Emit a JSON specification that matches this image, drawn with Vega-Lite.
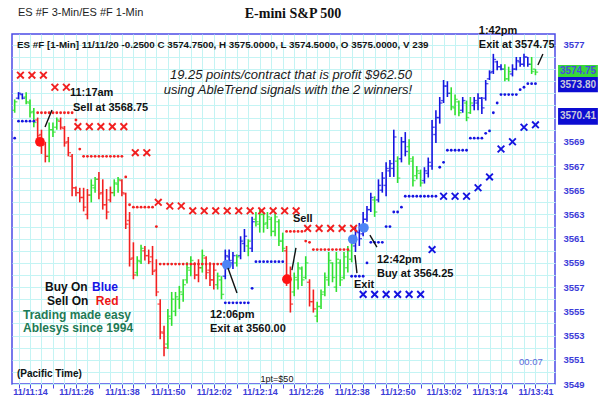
{
"$schema": "https://vega.github.io/schema/vega-lite/v6.json",
"width": 543, "height": 350,
"autosize": {"type": "none"},
"padding": {"left": 12, "top": 34, "right": 45, "bottom": 25},
"background": "white",
"config": {"view": {"stroke": "#4b4be6", "strokeWidth": 1.5}, "font": "Liberation Sans"},
"resolve": {"axis": {"x": "independent", "y": "independent"}},
"datasets": {
"bars": [
{"b":10,"l":3571.4,"h":3572.5,"o":3571.6,"c":3572.3,"t":"N"},
{"b":11,"l":3572.5,"h":3573.1,"o":3572.6,"c":3573.0,"t":"U"},
{"b":12,"l":3572.5,"h":3573.0,"o":3572.9,"c":3572.6,"t":"U"},
{"b":13,"l":3572.1,"h":3573.1,"o":3572.7,"c":3572.3,"t":"N"},
{"b":14,"l":3571.0,"h":3572.5,"o":3572.2,"c":3571.4,"t":"N"},
{"b":15,"l":3570.2,"h":3571.8,"o":3571.5,"c":3570.6,"t":"N"},
{"b":16,"l":3569.2,"h":3571.0,"o":3570.8,"c":3569.5,"t":"D"},
{"b":17,"l":3568.0,"h":3570.0,"o":3569.6,"c":3568.7,"t":"D"},
{"b":18,"l":3567.3,"h":3569.0,"o":3568.8,"c":3567.8,"t":"D"},
{"b":19,"l":3567.3,"h":3570.6,"o":3567.8,"c":3570.0,"t":"N"},
{"b":20,"l":3569.4,"h":3570.6,"o":3570.0,"c":3569.8,"t":"N"},
{"b":21,"l":3570.0,"h":3571.0,"o":3570.2,"c":3570.8,"t":"N"},
{"b":22,"l":3570.0,"h":3571.0,"o":3570.7,"c":3570.2,"t":"D"},
{"b":23,"l":3568.6,"h":3570.3,"o":3570.1,"c":3568.9,"t":"D"},
{"b":24,"l":3567.8,"h":3569.4,"o":3569.0,"c":3568.1,"t":"D"},
{"b":25,"l":3564.5,"h":3568.0,"o":3567.8,"c":3565.2,"t":"D"},
{"b":26,"l":3564.5,"h":3565.3,"o":3565.2,"c":3564.8,"t":"D"},
{"b":27,"l":3564.0,"h":3565.2,"o":3564.8,"c":3564.4,"t":"D"},
{"b":28,"l":3563.25,"h":3565.2,"o":3564.4,"c":3563.6,"t":"D"},
{"b":29,"l":3562.6,"h":3565.1,"o":3563.0,"c":3564.6,"t":"D"},
{"b":30,"l":3564.0,"h":3565.9,"o":3564.6,"c":3565.4,"t":"N"},
{"b":31,"l":3564.8,"h":3566.1,"o":3565.2,"c":3565.9,"t":"N"},
{"b":32,"l":3564.25,"h":3566.5,"o":3565.9,"c":3564.7,"t":"D"},
{"b":33,"l":3563.4,"h":3565.9,"o":3564.8,"c":3563.8,"t":"D"},
{"b":34,"l":3562.6,"h":3565.1,"o":3563.8,"c":3563.2,"t":"D"},
{"b":35,"l":3564.0,"h":3565.3,"o":3564.2,"c":3564.8,"t":"D"},
{"b":36,"l":3564.5,"h":3565.9,"o":3564.8,"c":3565.6,"t":"N"},
{"b":37,"l":3564.8,"h":3566.1,"o":3565.5,"c":3565.9,"t":"N"},
{"b":38,"l":3564.5,"h":3565.9,"o":3565.8,"c":3564.8,"t":"D"},
{"b":39,"l":3561.8,"h":3564.8,"o":3564.7,"c":3562.2,"t":"D"},
{"b":40,"l":3558.7,"h":3563.2,"o":3562.5,"c":3559.3,"t":"D"},
{"b":41,"l":3557.65,"h":3560.7,"o":3559.4,"c":3558.0,"t":"D"},
{"b":42,"l":3557.9,"h":3559.55,"o":3558.2,"c":3559.2,"t":"N"},
{"b":43,"l":3558.9,"h":3560.5,"o":3559.1,"c":3560.2,"t":"N"},
{"b":44,"l":3559.2,"h":3560.4,"o":3560.0,"c":3559.6,"t":"D"},
{"b":45,"l":3558.9,"h":3560.1,"o":3559.6,"c":3559.1,"t":"D"},
{"b":46,"l":3558.0,"h":3560.4,"o":3559.5,"c":3558.3,"t":"D"},
{"b":47,"l":3556.25,"h":3559.3,"o":3558.4,"c":3556.6,"t":"D"},
{"b":48,"l":3552.7,"h":3556.0,"o":3555.6,"c":3553.3,"t":"D"},
{"b":49,"l":3551.3,"h":3553.8,"o":3553.2,"c":3552.0,"t":"D"},
{"b":50,"l":3551.9,"h":3555.2,"o":3552.3,"c":3554.6,"t":"N"},
{"b":51,"l":3553.8,"h":3556.6,"o":3554.4,"c":3556.0,"t":"N"},
{"b":52,"l":3554.6,"h":3556.6,"o":3555.0,"c":3556.2,"t":"N"},
{"b":53,"l":3555.2,"h":3557.1,"o":3556.0,"c":3556.6,"t":"N"},
{"b":54,"l":3555.8,"h":3557.65,"o":3556.4,"c":3557.2,"t":"N"},
{"b":55,"l":3557.3,"h":3559.05,"o":3557.6,"c":3558.6,"t":"N"},
{"b":56,"l":3557.9,"h":3559.55,"o":3558.4,"c":3559.2,"t":"N"},
{"b":57,"l":3557.65,"h":3559.05,"o":3558.9,"c":3558.0,"t":"D"},
{"b":58,"l":3557.4,"h":3559.3,"o":3558.0,"c":3558.6,"t":"D"},
{"b":59,"l":3558.2,"h":3560.1,"o":3558.6,"c":3559.6,"t":"N"},
{"b":60,"l":3557.65,"h":3559.55,"o":3559.4,"c":3558.2,"t":"D"},
{"b":61,"l":3557.1,"h":3559.05,"o":3558.4,"c":3557.6,"t":"D"},
{"b":62,"l":3556.8,"h":3558.9,"o":3557.6,"c":3558.4,"t":"D"},
{"b":63,"l":3556.8,"h":3558.2,"o":3557.2,"c":3557.9,"t":"N"},
{"b":64,"l":3556.0,"h":3557.9,"o":3557.6,"c":3556.4,"t":"N"},
{"b":65,"l":3557.65,"h":3560.1,"o":3557.9,"c":3559.6,"t":"U"},
{"b":66,"l":3558.9,"h":3560.1,"o":3559.5,"c":3559.2,"t":"U"},
{"b":67,"l":3558.5,"h":3559.9,"o":3559.0,"c":3559.6,"t":"U"},
{"b":68,"l":3558.7,"h":3559.7,"o":3559.0,"c":3559.5,"t":"N"},
{"b":69,"l":3559.3,"h":3561.2,"o":3559.6,"c":3560.8,"t":"U"},
{"b":70,"l":3559.9,"h":3561.8,"o":3560.6,"c":3561.2,"t":"U"},
{"b":71,"l":3559.55,"h":3560.95,"o":3560.4,"c":3560.8,"t":"N"},
{"b":72,"l":3559.9,"h":3562.8,"o":3560.2,"c":3562.4,"t":"U"},
{"b":73,"l":3562.0,"h":3563.2,"o":3562.6,"c":3562.4,"t":"N"},
{"b":74,"l":3561.5,"h":3563.4,"o":3562.2,"c":3563.0,"t":"N"},
{"b":75,"l":3561.5,"h":3563.2,"o":3563.0,"c":3562.2,"t":"N"},
{"b":76,"l":3561.8,"h":3563.2,"o":3562.3,"c":3562.8,"t":"N"},
{"b":77,"l":3561.2,"h":3562.8,"o":3562.6,"c":3561.6,"t":"N"},
{"b":78,"l":3561.2,"h":3563.2,"o":3561.6,"c":3562.8,"t":"N"},
{"b":79,"l":3560.4,"h":3562.6,"o":3562.4,"c":3560.8,"t":"N"},
{"b":80,"l":3559.9,"h":3561.5,"o":3560.8,"c":3560.2,"t":"N"},
{"b":81,"l":3557.1,"h":3560.4,"o":3560.0,"c":3557.6,"t":"D"},
{"b":82,"l":3554.9,"h":3558.7,"o":3557.6,"c":3555.6,"t":"D"},
{"b":83,"l":3556.25,"h":3558.2,"o":3556.6,"c":3557.8,"t":"N"},
{"b":84,"l":3556.8,"h":3559.05,"o":3557.6,"c":3558.6,"t":"N"},
{"b":85,"l":3557.1,"h":3558.7,"o":3558.5,"c":3557.6,"t":"N"},
{"b":86,"l":3557.65,"h":3559.55,"o":3557.8,"c":3559.0,"t":"N"},
{"b":87,"l":3555.4,"h":3557.65,"o":3557.4,"c":3555.8,"t":"D"},
{"b":88,"l":3554.9,"h":3556.8,"o":3555.8,"c":3555.2,"t":"D"},
{"b":89,"l":3554.1,"h":3555.8,"o":3554.6,"c":3555.4,"t":"N"},
{"b":90,"l":3555.2,"h":3556.8,"o":3555.4,"c":3556.4,"t":"N"},
{"b":91,"l":3556.25,"h":3558.2,"o":3556.6,"c":3557.8,"t":"N"},
{"b":92,"l":3557.1,"h":3559.9,"o":3557.6,"c":3559.2,"t":"N"},
{"b":93,"l":3557.4,"h":3559.05,"o":3559.0,"c":3557.8,"t":"N"},
{"b":94,"l":3556.6,"h":3559.9,"o":3557.0,"c":3559.3,"t":"N"},
{"b":95,"l":3557.1,"h":3559.3,"o":3559.0,"c":3557.6,"t":"N"},
{"b":96,"l":3557.65,"h":3559.9,"o":3557.8,"c":3559.5,"t":"N"},
{"b":97,"l":3558.2,"h":3560.4,"o":3558.6,"c":3560.0,"t":"N"},
{"b":98,"l":3559.05,"h":3560.95,"o":3559.3,"c":3560.6,"t":"N"},
{"b":99,"l":3559.9,"h":3562.0,"o":3560.4,"c":3561.6,"t":"U"},
{"b":100,"l":3560.4,"h":3562.3,"o":3561.5,"c":3561.0,"t":"U"},
{"b":101,"l":3561.2,"h":3563.2,"o":3561.4,"c":3562.6,"t":"U"},
{"b":102,"l":3562.4,"h":3563.7,"o":3562.6,"c":3563.4,"t":"U"},
{"b":103,"l":3563.2,"h":3564.8,"o":3563.4,"c":3564.4,"t":"U"},
{"b":104,"l":3562.8,"h":3564.5,"o":3564.2,"c":3563.2,"t":"N"},
{"b":105,"l":3564.0,"h":3565.9,"o":3564.2,"c":3565.4,"t":"U"},
{"b":106,"l":3564.8,"h":3566.5,"o":3565.0,"c":3566.0,"t":"U"},
{"b":107,"l":3564.5,"h":3567.3,"o":3565.4,"c":3566.8,"t":"U"},
{"b":108,"l":3566.1,"h":3567.5,"o":3566.6,"c":3567.2,"t":"U"},
{"b":109,"l":3566.1,"h":3570.0,"o":3566.8,"c":3569.4,"t":"U"},
{"b":110,"l":3565.6,"h":3567.8,"o":3567.4,"c":3566.0,"t":"N"},
{"b":111,"l":3567.3,"h":3569.4,"o":3567.6,"c":3569.0,"t":"U"},
{"b":112,"l":3567.8,"h":3569.8,"o":3569.0,"c":3568.2,"t":"U"},
{"b":113,"l":3567.1,"h":3569.2,"o":3568.6,"c":3567.6,"t":"N"},
{"b":114,"l":3565.3,"h":3567.8,"o":3567.4,"c":3565.8,"t":"N"},
{"b":115,"l":3565.9,"h":3567.0,"o":3566.2,"c":3566.6,"t":"N"},
{"b":116,"l":3565.3,"h":3566.7,"o":3566.4,"c":3565.6,"t":"N"},
{"b":117,"l":3565.55,"h":3566.9,"o":3565.8,"c":3566.6,"t":"U"},
{"b":118,"l":3566.05,"h":3567.7,"o":3566.4,"c":3567.3,"t":"U"},
{"b":119,"l":3566.7,"h":3570.8,"o":3567.0,"c":3570.2,"t":"U"},
{"b":120,"l":3568.9,"h":3571.6,"o":3569.6,"c":3571.0,"t":"U"},
{"b":121,"l":3570.5,"h":3572.7,"o":3571.0,"c":3572.2,"t":"U"},
{"b":122,"l":3572.2,"h":3574.1,"o":3572.4,"c":3573.6,"t":"U"},
{"b":123,"l":3572.7,"h":3574.0,"o":3573.6,"c":3573.0,"t":"U"},
{"b":124,"l":3571.6,"h":3573.5,"o":3573.0,"c":3571.9,"t":"N"},
{"b":125,"l":3571.2,"h":3572.9,"o":3571.8,"c":3572.5,"t":"N"},
{"b":126,"l":3571.1,"h":3572.4,"o":3572.3,"c":3571.4,"t":"N"},
{"b":127,"l":3571.4,"h":3572.7,"o":3571.6,"c":3572.4,"t":"U"},
{"b":128,"l":3570.7,"h":3572.4,"o":3572.2,"c":3571.0,"t":"N"},
{"b":129,"l":3571.3,"h":3572.7,"o":3571.4,"c":3572.2,"t":"N"},
{"b":130,"l":3571.6,"h":3572.7,"o":3572.0,"c":3572.4,"t":"U"},
{"b":131,"l":3571.6,"h":3573.0,"o":3572.2,"c":3572.6,"t":"U"},
{"b":132,"l":3571.3,"h":3572.7,"o":3572.6,"c":3571.8,"t":"U"},
{"b":133,"l":3572.4,"h":3574.1,"o":3572.6,"c":3573.8,"t":"U"},
{"b":134,"l":3574.1,"h":3574.9,"o":3574.2,"c":3574.7,"t":"U"},
{"b":135,"l":3574.6,"h":3576.26,"o":3574.8,"c":3575.8,"t":"U"},
{"b":136,"l":3574.9,"h":3575.7,"o":3575.6,"c":3575.2,"t":"U"},
{"b":137,"l":3574.9,"h":3575.4,"o":3575.2,"c":3575.0,"t":"U"},
{"b":138,"l":3574.0,"h":3575.4,"o":3575.0,"c":3574.2,"t":"N"},
{"b":139,"l":3574.0,"h":3575.2,"o":3574.2,"c":3574.8,"t":"N"},
{"b":140,"l":3574.4,"h":3575.4,"o":3574.6,"c":3575.0,"t":"U"},
{"b":141,"l":3574.9,"h":3576.0,"o":3575.0,"c":3575.7,"t":"U"},
{"b":142,"l":3575.2,"h":3576.0,"o":3575.6,"c":3575.4,"t":"U"},
{"b":143,"l":3575.2,"h":3576.26,"o":3575.4,"c":3576.0,"t":"U"},
{"b":144,"l":3575.2,"h":3576.0,"o":3576.0,"c":3575.4,"t":"U"},
{"b":145,"l":3574.6,"h":3576.0,"o":3575.4,"c":3574.8,"t":"N"},
{"b":146,"l":3574.5,"h":3575.0,"o":3575.0,"c":3574.75,"t":"N"}
],
"stops": [
{"b":10,"p":3569.3,"s":"U"},{"b":11,"p":3570.7,"s":"U"},{"b":12,"p":3570.7,"s":"U"},{"b":13,"p":3570.7,"s":"U"},{"b":14,"p":3570.7,"s":"U"},{"b":15,"p":3570.7,"s":"U"},
{"b":16,"p":3571.4,"s":"D"},{"b":17,"p":3571.4,"s":"D"},{"b":18,"p":3571.4,"s":"D"},{"b":19,"p":3571.4,"s":"D"},{"b":20,"p":3571.4,"s":"D"},{"b":21,"p":3571.4,"s":"D"},{"b":22,"p":3571.4,"s":"D"},{"b":23,"p":3571.4,"s":"D"},{"b":24,"p":3571.4,"s":"D"},{"b":25,"p":3571.4,"s":"D"},
{"b":26,"p":3570.8,"s":"D"},{"b":27,"p":3568.4,"s":"D"},
{"b":28,"p":3567.8,"s":"D"},{"b":29,"p":3567.8,"s":"D"},{"b":30,"p":3567.8,"s":"D"},{"b":31,"p":3567.8,"s":"D"},{"b":32,"p":3567.8,"s":"D"},{"b":33,"p":3567.8,"s":"D"},{"b":34,"p":3567.8,"s":"D"},{"b":35,"p":3567.8,"s":"D"},{"b":36,"p":3567.8,"s":"D"},{"b":37,"p":3567.8,"s":"D"},{"b":38,"p":3567.8,"s":"D"},
{"b":39,"p":3566.1,"s":"D"},{"b":40,"p":3563.8,"s":"D"},
{"b":41,"p":3563.6,"s":"D"},{"b":42,"p":3563.6,"s":"D"},{"b":43,"p":3563.6,"s":"D"},{"b":44,"p":3563.6,"s":"D"},{"b":45,"p":3563.6,"s":"D"},{"b":46,"p":3563.6,"s":"D"},
{"b":47,"p":3562.0,"s":"D"},
{"b":48,"p":3558.9,"s":"D"},{"b":49,"p":3558.9,"s":"D"},{"b":50,"p":3558.9,"s":"D"},{"b":51,"p":3558.9,"s":"D"},{"b":52,"p":3558.9,"s":"D"},{"b":53,"p":3558.9,"s":"D"},{"b":54,"p":3558.9,"s":"D"},{"b":55,"p":3558.9,"s":"D"},{"b":56,"p":3558.9,"s":"D"},{"b":57,"p":3558.9,"s":"D"},{"b":58,"p":3558.9,"s":"D"},{"b":59,"p":3558.9,"s":"D"},{"b":60,"p":3558.9,"s":"D"},{"b":61,"p":3558.9,"s":"D"},{"b":62,"p":3558.9,"s":"D"},{"b":63,"p":3558.9,"s":"D"},{"b":64,"p":3558.9,"s":"D"},
{"b":65,"p":3555.7,"s":"U"},{"b":66,"p":3555.7,"s":"U"},{"b":67,"p":3555.7,"s":"U"},{"b":68,"p":3555.7,"s":"U"},{"b":69,"p":3555.7,"s":"U"},{"b":70,"p":3555.7,"s":"U"},{"b":71,"p":3555.7,"s":"U"},
{"b":72,"p":3556.9,"s":"U"},
{"b":73,"p":3559.1,"s":"U"},{"b":74,"p":3559.1,"s":"U"},{"b":75,"p":3559.1,"s":"U"},{"b":76,"p":3559.1,"s":"U"},{"b":77,"p":3559.1,"s":"U"},{"b":78,"p":3559.1,"s":"U"},{"b":79,"p":3559.1,"s":"U"},{"b":80,"p":3559.1,"s":"U"},
{"b":81,"p":3561.6,"s":"D"},{"b":82,"p":3561.6,"s":"D"},{"b":83,"p":3561.6,"s":"D"},{"b":84,"p":3561.6,"s":"D"},{"b":85,"p":3561.6,"s":"D"},
{"b":86,"p":3560.8,"s":"D"},{"b":87,"p":3560.7,"s":"D"},
{"b":88,"p":3560.1,"s":"D"},{"b":89,"p":3560.1,"s":"D"},{"b":90,"p":3560.1,"s":"D"},{"b":91,"p":3560.1,"s":"D"},{"b":92,"p":3560.1,"s":"D"},{"b":93,"p":3560.1,"s":"D"},{"b":94,"p":3560.1,"s":"D"},{"b":95,"p":3560.1,"s":"D"},{"b":96,"p":3560.1,"s":"D"},{"b":97,"p":3560.1,"s":"D"},
{"b":98,"p":3557.9,"s":"U"},{"b":99,"p":3557.9,"s":"U"},{"b":100,"p":3557.9,"s":"U"},{"b":101,"p":3557.9,"s":"U"},
{"b":102,"p":3559.0,"s":"U"},
{"b":103,"p":3560.7,"s":"U"},{"b":104,"p":3560.7,"s":"U"},{"b":105,"p":3560.7,"s":"U"},{"b":106,"p":3560.7,"s":"U"},
{"b":107,"p":3562.0,"s":"U"},{"b":108,"p":3562.0,"s":"U"},
{"b":109,"p":3563.2,"s":"U"},{"b":110,"p":3563.2,"s":"U"},{"b":111,"p":3563.6,"s":"U"},
{"b":112,"p":3564.5,"s":"U"},{"b":113,"p":3564.5,"s":"U"},{"b":114,"p":3564.5,"s":"U"},{"b":115,"p":3564.5,"s":"U"},{"b":116,"p":3564.5,"s":"U"},{"b":117,"p":3564.5,"s":"U"},{"b":118,"p":3564.5,"s":"U"},{"b":119,"p":3564.5,"s":"U"},{"b":120,"p":3564.5,"s":"U"},
{"b":121,"p":3566.9,"s":"U"},{"b":122,"p":3567.3,"s":"U"},
{"b":123,"p":3568.3,"s":"U"},{"b":124,"p":3568.3,"s":"U"},{"b":125,"p":3568.3,"s":"U"},{"b":126,"p":3568.3,"s":"U"},{"b":127,"p":3568.3,"s":"U"},{"b":128,"p":3568.3,"s":"U"},
{"b":129,"p":3569.3,"s":"U"},{"b":130,"p":3569.3,"s":"U"},{"b":131,"p":3569.3,"s":"U"},{"b":132,"p":3569.3,"s":"U"},
{"b":133,"p":3569.7,"s":"U"},{"b":134,"p":3569.9,"s":"U"},{"b":135,"p":3571.4,"s":"U"},{"b":136,"p":3572.2,"s":"U"},
{"b":137,"p":3572.9,"s":"U"},{"b":138,"p":3572.9,"s":"U"},{"b":139,"p":3572.9,"s":"U"},{"b":140,"p":3572.9,"s":"U"},{"b":141,"p":3572.9,"s":"U"},
{"b":142,"p":3573.3,"s":"U"},{"b":143,"p":3573.5,"s":"U"},
{"b":144,"p":3573.8,"s":"U"},{"b":145,"p":3573.8,"s":"U"},{"b":146,"p":3573.8,"s":"U"}
],
"xs": [
{"b":11.5,"p":3574.5,"s":"D"},{"b":14.5,"p":3574.5,"s":"D"},{"b":17.5,"p":3574.5,"s":"D"},
{"b":20.5,"p":3573.5,"s":"D"},{"b":23.5,"p":3573.5,"s":"D"},
{"b":26.5,"p":3570.25,"s":"D"},{"b":29.5,"p":3570.25,"s":"D"},{"b":32.5,"p":3570.25,"s":"D"},{"b":35.5,"p":3570.25,"s":"D"},{"b":38.5,"p":3570.25,"s":"D"},
{"b":41.5,"p":3568.1,"s":"D"},{"b":44.5,"p":3568.1,"s":"D"},
{"b":47.5,"p":3564.0,"s":"D"},
{"b":50.5,"p":3563.7,"s":"D"},{"b":53.5,"p":3563.7,"s":"D"},
{"b":56.5,"p":3563.3,"s":"D"},{"b":59.5,"p":3563.3,"s":"D"},{"b":62.5,"p":3563.3,"s":"D"},{"b":65.5,"p":3563.3,"s":"D"},{"b":68.5,"p":3563.3,"s":"D"},{"b":71.5,"p":3563.3,"s":"D"},{"b":74.5,"p":3563.3,"s":"D"},{"b":77.5,"p":3563.3,"s":"D"},{"b":80.5,"p":3563.3,"s":"D"},{"b":83.5,"p":3563.3,"s":"D"},
{"b":86.5,"p":3561.85,"s":"D"},{"b":89.5,"p":3561.85,"s":"D"},{"b":92.5,"p":3561.85,"s":"D"},{"b":95.5,"p":3561.85,"s":"D"},{"b":98.5,"p":3561.85,"s":"D"},
{"b":101,"p":3556.4,"s":"U"},{"b":104,"p":3556.4,"s":"U"},{"b":107,"p":3556.4,"s":"U"},{"b":110,"p":3556.4,"s":"U"},{"b":113,"p":3556.4,"s":"U"},{"b":116,"p":3556.4,"s":"U"},
{"b":119,"p":3560.1,"s":"U"},
{"b":122,"p":3564.5,"s":"U"},{"b":125,"p":3564.5,"s":"U"},{"b":128,"p":3564.5,"s":"U"},
{"b":131,"p":3565.2,"s":"U"},{"b":134,"p":3566.1,"s":"U"},{"b":137,"p":3568.4,"s":"U"},{"b":140,"p":3569.0,"s":"U"},{"b":143,"p":3570.2,"s":"U"},{"b":146,"p":3570.4,"s":"U"}
],
"signals": [
{"b":16.6,"p":3569.0,"s":"Sell"},
{"b":65.4,"p":3558.85,"s":"Cover"},
{"b":81.1,"p":3557.65,"s":"Sell"},
{"b":98.3,"p":3560.95,"s":"Cover"},
{"b":101.2,"p":3561.9,"s":"Buy"}
],
"arrows": [
{"b":19.74,"p":3571.62,"b2":17.92,"p2":3570.22},
{"b":68.05,"p":3556.51,"b2":65.7,"p2":3558.58},
{"b":83.45,"p":3560.23,"b2":82.4,"p2":3558.41},
{"b":99.38,"p":3558.16,"b2":98.86,"p2":3559.65},
{"b":104.6,"p":3560.31,"b2":102.77,"p2":3561.3},
{"b":147.94,"p":3576.25,"b2":146.64,"p2":3575.34}
],
"notes": [
{"b":10.87,"p":3579.63,"txt":"ES #F 3-Min/ES #F 1-Min","k":"win"},
{"b":82.67,"p":3579.55,"txt":"E-mini S&P 500","k":"ttl"},
{"b":10.6,"p":3576.99,"txt":"ES #F [1-Min] 11/11/20  -0.2500 C 3574.7500, H 3575.0000, L 3574.5000, O 3575.0000, V 239","k":"head"},
{"b":24.44,"p":3573.03,"txt":"11:17am","k":"call"},
{"b":25.23,"p":3571.79,"txt":"Sell at 3568.75","k":"call"},
{"b":82.67,"p":3562.62,"txt":"Sell","k":"call"},
{"b":61.0,"p":3554.7,"txt":"12:06pm","k":"call"},
{"b":61.0,"p":3553.54,"txt":"Exit at 3560.00","k":"call"},
{"b":98.6,"p":3557.17,"txt":"Exit","k":"call"},
{"b":104.6,"p":3559.24,"txt":"12:42pm","k":"call"},
{"b":104.6,"p":3558.08,"txt":"Buy at 3564.25","k":"call"},
{"b":131.2,"p":3578.15,"txt":"1:42pm","k":"call"},
{"b":131.2,"p":3576.99,"txt":"Exit at 3574.75","k":"call"},
{"b":82.15,"p":3574.51,"txt":"19.25 points/contract that is profit $962.50","k":"msg"},
{"b":81.36,"p":3573.28,"txt":"using AbleTrend signals with the 2 winners!","k":"msg"},
{"b":17.92,"p":3557.0,"txt":"Buy On","k":"legK"},
{"b":18.44,"p":3555.85,"txt":"Sell On","k":"legK"},
{"b":30.2,"p":3557.0,"txt":"Blue","k":"legB"},
{"b":31.2,"p":3555.85,"txt":"Red","k":"legR"},
{"b":12.17,"p":3554.7,"txt":"Trading made easy","k":"legG"},
{"b":12.17,"p":3553.62,"txt":"Ablesys since 1994","k":"legG"},
{"b":10.6,"p":3549.82,"txt":"(Pacific Time)","k":"pac"},
{"b":78.5,"p":3549.41,"txt":"1pt=$50","k":"pt"},
{"b":144.8,"p":3550.8,"txt":"00:07","k":"clock"}
],
"tags": [
{"lab":"3574.75","top":3575.35,"bot":3574.35,"mid":3574.85,"k":"last"},
{"lab":"3573.80","top":3574.35,"bot":3573.1,"mid":3573.72,"k":"stop"},
{"lab":"3570.41","top":3571.8,"bot":3570.4,"mid":3571.1,"k":"stop"}
]
},
"layer": [
{"data": {"name": "bars"},
 "mark": {"type": "rule", "strokeWidth": 1.6},
 "encoding": {
  "x": {"field": "b", "type": "quantitative", "scale": {"domain": [9.3, 151.1], "nice": false, "zero": false},
   "axis": {"orient": "bottom", "values": [11,14,17,20,23,26,29,32,35,38,41,44,47,50,53,56,59,62,65,68,71,74,77,80,83,86,89,92,95,98,101,104,107,110,113,116,119,122,125,128,131,134,137,140,143,146,149],
    "grid": true, "gridColor": "#c4f4f4", "gridWidth": 1, "domain": false, "ticks": true, "tickColor": "#4b4be6", "tickSize": 4, "labels": false, "title": null, "zindex": 0}},
  "y": {"field": "l", "type": "quantitative", "scale": {"domain": [3549, 3577.9], "nice": false, "zero": false},
   "axis": {"orient": "right", "values": [3549,3550,3551,3552,3553,3554,3555,3556,3557,3558,3559,3560,3561,3562,3563,3564,3565,3566,3567,3568,3569,3570,3571,3572,3573,3574,3575,3576,3577],
    "grid": true, "gridColor": "#c4f4f4", "gridWidth": 1, "domain": false, "ticks": false, "labels": false, "title": null, "zindex": 0}},
  "y2": {"field": "h"},
  "color": {"field": "t", "type": "nominal", "scale": {"domain": ["U","D","N"], "range": ["#1414e0","#f22020","#30e030"]}, "legend": null}
 }},
{"data": {"name": "bars"},
 "mark": {"type": "tick", "orient": "horizontal", "size": 2.4, "thickness": 1.4, "xOffset": -1.5},
 "encoding": {
  "x": {"field": "b", "type": "quantitative",
   "axis": {"orient": "bottom", "values": [14,26,38,50,62,74,86,98,110,122,134,146], "grid": false, "domain": false, "ticks": false,
    "labelExpr": "datum.value == 14 ? '11/11:14' : datum.value == 26 ? '11/11:26' : datum.value == 38 ? '11/11:38' : datum.value == 50 ? '11/11:50' : datum.value == 62 ? '11/12:02' : datum.value == 74 ? '11/12:14' : datum.value == 86 ? '11/12:26' : datum.value == 98 ? '11/12:38' : datum.value == 110 ? '11/12:50' : datum.value == 122 ? '11/13:02' : datum.value == 134 ? '11/13:14' : '11/13:41'",
    "labelColor": "#3c3cd8", "labelFont": "Liberation Sans", "labelFontSize": 9, "labelFontWeight": "bold", "labelPadding": 3, "labelOverlap": false, "labelFlush": false, "labelBound": false, "title": null, "zindex": 1}},
  "y": {"field": "o", "type": "quantitative",
   "axis": {"orient": "right", "values": [3549,3551,3553,3555,3557,3559,3561,3563,3565,3567,3569,3577], "grid": false, "domain": false, "ticks": false, "format": "d",
    "labelColor": "#3c3cd8", "labelFont": "Liberation Sans", "labelFontSize": 9.5, "labelFontWeight": "bold", "labelPadding": 8, "labelOverlap": false, "labelBound": false, "labelBaseline": "middle", "labelFlush": false, "title": null, "zindex": 0, "offset": 0}},
  "color": {"field": "t", "type": "nominal", "scale": {"domain": ["U","D","N"], "range": ["#1414e0","#f22020","#30e030"]}, "legend": null}}},
{"data": {"name": "bars"},
 "mark": {"type": "tick", "orient": "horizontal", "size": 2.4, "thickness": 1.4, "xOffset": 1.5},
 "encoding": {"x": {"field": "b", "type": "quantitative", "axis": null}, "y": {"field": "c", "type": "quantitative", "axis": null},
  "color": {"field": "t", "type": "nominal", "scale": {"domain": ["U","D","N"], "range": ["#1414e0","#f22020","#30e030"]}, "legend": null}}},
{"data": {"name": "stops"},
 "mark": {"type": "point", "filled": true, "size": 8, "opacity": 1, "strokeWidth": 0},
 "encoding": {"x": {"field": "b", "type": "quantitative", "axis": null}, "y": {"field": "p", "type": "quantitative", "axis": null},
  "color": {"field": "s", "type": "nominal", "scale": {"domain": ["U","D","N"], "range": ["#1414e0","#f22020","#30e030"]}, "legend": null}}},
{"data": {"name": "xs"},
 "mark": {"type": "point", "shape": "M-1,-1L1,1M-1,1L1,-1", "filled": false, "size": 45, "strokeWidth": 1.9, "opacity": 1},
 "encoding": {"x": {"field": "b", "type": "quantitative", "axis": null}, "y": {"field": "p", "type": "quantitative", "axis": null},
  "color": {"field": "s", "type": "nominal", "scale": {"domain": ["U","D","N"], "range": ["#1414e0","#f22020","#30e030"]}, "legend": null}}},
{"data": {"name": "signals"},
 "mark": {"type": "point", "filled": true, "size": 95, "opacity": 1, "strokeWidth": 0},
 "encoding": {"x": {"field": "b", "type": "quantitative", "axis": null}, "y": {"field": "p", "type": "quantitative", "axis": null},
  "fill": {"field": "s", "type": "nominal", "scale": {"domain": ["Sell","Cover","Buy"], "range": ["#ff1212","#4d84f5","#4d84f5"]}, "legend": null}}},
{"data": {"name": "arrows"},
 "mark": {"type": "rule", "color": "#111111", "strokeWidth": 1.4},
 "encoding": {"x": {"field": "b", "type": "quantitative", "axis": null}, "y": {"field": "p", "type": "quantitative", "axis": null}, "x2": {"field": "b2"}, "y2": {"field": "p2"}}},
{"data": {"name": "notes"}, "transform": [{"filter": "datum.k == 'win'"}],
 "mark": {"type": "text", "align": "left", "baseline": "middle", "fontSize": 11, "color": "#1e1e1e", "font": "Liberation Sans"},
 "encoding": {"x": {"field": "b", "type": "quantitative", "axis": null}, "y": {"field": "p", "type": "quantitative", "axis": null}, "text": {"field": "txt"}}},
{"data": {"name": "notes"}, "transform": [{"filter": "datum.k == 'ttl'"}],
 "mark": {"type": "text", "align": "center", "baseline": "middle", "fontSize": 14, "fontWeight": "bold", "color": "#111111", "font": "Liberation Serif"},
 "encoding": {"x": {"field": "b", "type": "quantitative", "axis": null}, "y": {"field": "p", "type": "quantitative", "axis": null}, "text": {"field": "txt"}}},
{"data": {"name": "notes"}, "transform": [{"filter": "datum.k == 'head'"}],
 "mark": {"type": "text", "align": "left", "baseline": "middle", "fontSize": 9.8, "fontWeight": "bold", "color": "#151515", "font": "Liberation Sans"},
 "encoding": {"x": {"field": "b", "type": "quantitative", "axis": null}, "y": {"field": "p", "type": "quantitative", "axis": null}, "text": {"field": "txt"}}},
{"data": {"name": "notes"}, "transform": [{"filter": "datum.k == 'call'"}],
 "mark": {"type": "text", "align": "left", "baseline": "middle", "fontSize": 11, "fontWeight": "bold", "color": "#111111", "font": "Liberation Sans"},
 "encoding": {"x": {"field": "b", "type": "quantitative", "axis": null}, "y": {"field": "p", "type": "quantitative", "axis": null}, "text": {"field": "txt"}}},
{"data": {"name": "notes"}, "transform": [{"filter": "datum.k == 'msg'"}],
 "mark": {"type": "text", "align": "center", "baseline": "middle", "fontSize": 13, "fontStyle": "italic", "color": "#1a1a1a", "font": "Liberation Sans"},
 "encoding": {"x": {"field": "b", "type": "quantitative", "axis": null}, "y": {"field": "p", "type": "quantitative", "axis": null}, "text": {"field": "txt"}}},
{"data": {"name": "notes"}, "transform": [{"filter": "datum.k == 'legK'"}],
 "mark": {"type": "text", "align": "left", "baseline": "middle", "fontSize": 12, "fontWeight": "bold", "color": "#111111", "font": "Liberation Sans"},
 "encoding": {"x": {"field": "b", "type": "quantitative", "axis": null}, "y": {"field": "p", "type": "quantitative", "axis": null}, "text": {"field": "txt"}}},
{"data": {"name": "notes"}, "transform": [{"filter": "datum.k == 'legB'"}],
 "mark": {"type": "text", "align": "left", "baseline": "middle", "fontSize": 12, "fontWeight": "bold", "color": "#1515e6", "font": "Liberation Sans"},
 "encoding": {"x": {"field": "b", "type": "quantitative", "axis": null}, "y": {"field": "p", "type": "quantitative", "axis": null}, "text": {"field": "txt"}}},
{"data": {"name": "notes"}, "transform": [{"filter": "datum.k == 'legR'"}],
 "mark": {"type": "text", "align": "left", "baseline": "middle", "fontSize": 12, "fontWeight": "bold", "color": "#ee1515", "font": "Liberation Sans"},
 "encoding": {"x": {"field": "b", "type": "quantitative", "axis": null}, "y": {"field": "p", "type": "quantitative", "axis": null}, "text": {"field": "txt"}}},
{"data": {"name": "notes"}, "transform": [{"filter": "datum.k == 'legG'"}],
 "mark": {"type": "text", "align": "left", "baseline": "middle", "fontSize": 12, "fontWeight": "bold", "color": "#1e7a55", "font": "Liberation Sans"},
 "encoding": {"x": {"field": "b", "type": "quantitative", "axis": null}, "y": {"field": "p", "type": "quantitative", "axis": null}, "text": {"field": "txt"}}},
{"data": {"name": "notes"}, "transform": [{"filter": "datum.k == 'pac'"}],
 "mark": {"type": "text", "align": "left", "baseline": "middle", "fontSize": 10, "fontWeight": "bold", "color": "#111111", "font": "Liberation Sans"},
 "encoding": {"x": {"field": "b", "type": "quantitative", "axis": null}, "y": {"field": "p", "type": "quantitative", "axis": null}, "text": {"field": "txt"}}},
{"data": {"name": "notes"}, "transform": [{"filter": "datum.k == 'pt'"}],
 "mark": {"type": "text", "align": "center", "baseline": "middle", "fontSize": 9, "color": "#111111", "font": "Liberation Sans"},
 "encoding": {"x": {"field": "b", "type": "quantitative", "axis": null}, "y": {"field": "p", "type": "quantitative", "axis": null}, "text": {"field": "txt"}}},
{"data": {"name": "notes"}, "transform": [{"filter": "datum.k == 'clock'"}],
 "mark": {"type": "text", "align": "center", "baseline": "middle", "fontSize": 9.5, "color": "#5a68d8", "font": "Liberation Sans"},
 "encoding": {"x": {"field": "b", "type": "quantitative", "axis": null}, "y": {"field": "p", "type": "quantitative", "axis": null}, "text": {"field": "txt"}}},
{"data": {"name": "tags"}, "transform": [{"filter": "datum.k == 'last'"}],
 "mark": {"type": "rect", "color": "#38d838"},
 "encoding": {"x": {"datum": 151.9, "type": "quantitative", "axis": null}, "x2": {"datum": 162.3}, "y": {"field": "top", "type": "quantitative", "axis": null}, "y2": {"field": "bot"}}},
{"data": {"name": "tags"}, "transform": [{"filter": "datum.k == 'last'"}],
 "mark": {"type": "text", "align": "center", "baseline": "middle", "fontSize": 10, "fontWeight": "bold", "color": "#4a4ae0", "font": "Liberation Sans"},
 "encoding": {"x": {"datum": 157.1, "type": "quantitative", "axis": null}, "y": {"field": "mid", "type": "quantitative", "axis": null}, "text": {"field": "lab"}}},
{"data": {"name": "tags"}, "transform": [{"filter": "datum.k == 'stop'"}],
 "mark": {"type": "rect", "color": "#0c0cd2"},
 "encoding": {"x": {"datum": 151.9, "type": "quantitative", "axis": null}, "x2": {"datum": 162.3}, "y": {"field": "top", "type": "quantitative", "axis": null}, "y2": {"field": "bot"}}},
{"data": {"name": "tags"}, "transform": [{"filter": "datum.k == 'stop'"}],
 "mark": {"type": "text", "align": "center", "baseline": "middle", "fontSize": 10, "fontWeight": "bold", "color": "#c8c8dc", "font": "Liberation Sans"},
 "encoding": {"x": {"datum": 157.1, "type": "quantitative", "axis": null}, "y": {"field": "mid", "type": "quantitative", "axis": null}, "text": {"field": "lab"}}}
]
}
